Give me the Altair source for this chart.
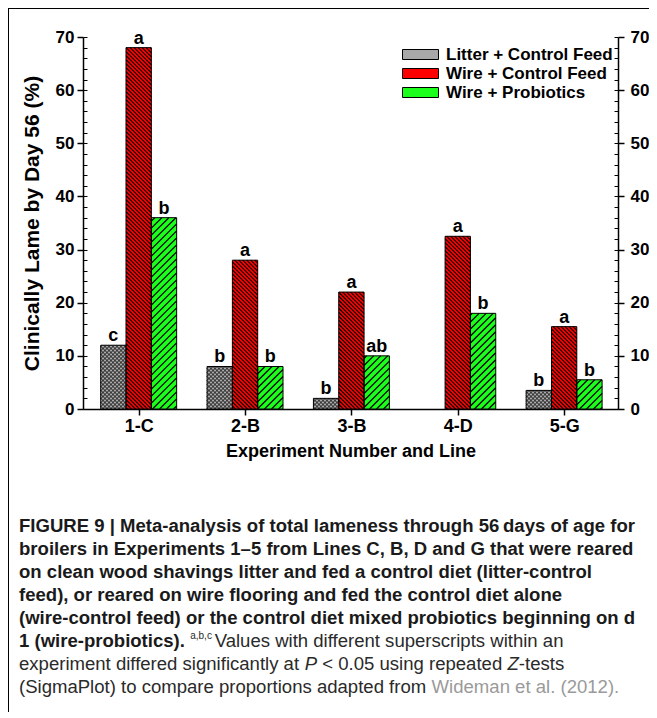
import math
import altair as alt
import pandas as pd

# ---------------- data ----------------
categories = ["1-C", "2-B", "3-B", "4-D", "5-G"]
series_names = ["Litter + Control Feed", "Wire + Control Feed", "Wire + Probiotics"]
litter_control = [12, 8, 2, None, 3.5]
wire_control = [68, 28, 22, 32.5, 15.5]
wire_probiotics = [36, 8, 10, 18, 5.5]
letters_litter = ["c", "b", "b", "", "b"]
letters_wire = ["a", "a", "a", "a", "a"]
letters_probiotics = ["b", "b", "ab", "b", "b"]
major_ticks = [0, 10, 20, 30, 40, 50, 60, 70]
minor_ticks = [0, 2, 4, 6, 8, 10, 12, 14, 16, 18, 20, 22, 24, 26, 28, 30, 32, 34,
               36, 38, 40, 42, 44, 46, 48, 50, 52, 54, 56, 58, 60, 62, 64, 66, 68, 70]
series_colors = ["#a8a8a8", "#ff0000", "#1cff1c"]

# ---------------- layout ----------------
W, H = 535, 372
XMAX, YMAX = 5.03, 70
G0, BW = 0.1665, 0.238
SX, SY = W / XMAX, H / YMAX
FONT = "Liberation Sans"

rows = []
for j, (name, vals, labs) in enumerate(zip(series_names,
                                         [litter_control, wire_control, wire_probiotics],
                                         [letters_litter, letters_wire, letters_probiotics])):
    for i, (cat, v, lab) in enumerate(zip(categories, vals, labs)):
        if v is None:
            continue
        x0 = i + G0 + j * BW
        rows.append(dict(category=cat, series=name, value=v, base=0, x0=x0, x1=x0 + BW,
                         xm=x0 + BW / 2, letter=lab, k=j))
bars = pd.DataFrame(rows)


def hatch(df, direction, spacing, phase=0.5):
    """Diagonal hatch segments clipped to each bar, on one pattern grid for the whole plot."""
    segs = []
    for r in df.itertuples():
        X0 = r.x0 * SX
        w = (r.x1 - r.x0) * SX
        h = r.value * SY
        if direction == "/":          # v = u + c, global: v - U = K*s + p
            base = phase + X0
            kmin = math.floor((-w - base) / spacing)
            kmax = math.ceil((h - base) / spacing)
            for K in range(kmin, kmax + 1):
                c = K * spacing + base
                u1, u2 = max(0, -c), min(w, h - c)
                if u2 - u1 > 0.3:
                    segs.append(dict(xa=r.x0 + u1 / SX, ya=(u1 + c) / SY,
                                     xb=r.x0 + u2 / SX, yb=(u2 + c) / SY))
        else:                         # v = -u + c, global: U + v = K*s + p
            base = phase - X0
            kmin = math.floor((0 - base) / spacing)
            kmax = math.ceil((h + w - base) / spacing)
            for K in range(kmin, kmax + 1):
                c = K * spacing + base
                u1, u2 = max(0, c - h), min(w, c)
                if u2 - u1 > 0.3:
                    segs.append(dict(xa=r.x0 + u1 / SX, ya=(c - u1) / SY,
                                     xb=r.x0 + u2 / SX, yb=(c - u2) / SY))
    return pd.DataFrame(segs)


xs = alt.Scale(domain=[0, XMAX], nice=False, zero=False)
ys = alt.Scale(domain=[0, YMAX], nice=False, zero=False)

centers = [i + G0 + 1.5 * BW for i in range(len(categories))]
label_expr = "[" + ",".join("'" + c + "'" for c in categories) + "][floor(datum.value)]"

axis_common = dict(grid=False, domainColor="black", tickColor="black", labelColor="black",
                   titleColor="black", labelFont=FONT, titleFont=FONT,
                   labelFontWeight="bold", titleFontWeight="bold")

x_axis = alt.Axis(values=centers, labelExpr=label_expr, title="Experiment Number and Line",
                  tickSize=6, tickWidth=1.5, domainWidth=1.5, labelFontSize=18,
                  titleFontSize=18, labelPadding=2, titlePadding=7, **axis_common)
y_left = alt.Axis(orient="left", values=major_ticks, tickSize=6, tickWidth=1.5, domainWidth=1.5,
                  labelFontSize=17, labelPadding=3, title="Clinically Lame by Day 56 (%)",
                  titleFontSize=21, titlePadding=13, **axis_common)
y_right = alt.Axis(orient="right", values=major_ticks, tickSize=6, tickWidth=1.5, domainWidth=1.5,
                   labelFontSize=17, labelPadding=6, title=None, **axis_common)
y_left_minor = alt.Axis(orient="right", offset=-W, values=minor_ticks, tickSize=4, tickWidth=1,
                        labels=False, domain=False, title=None, grid=False, tickColor="black")
y_right_minor = alt.Axis(orient="left", offset=-W, values=minor_ticks, tickSize=4, tickWidth=1,
                         labels=False, domain=False, title=None, grid=False, tickColor="black")

legend = alt.Legend(orient="none", legendX=327, legendY=7, title=None,
                    symbolType="M-1.8,-0.5H1.8V0.5H-1.8Z", symbolSize=400,
                    symbolStrokeColor="black", symbolStrokeWidth=1, symbolOpacity=1,
                    labelFont=FONT, labelFontSize=17, labelFontWeight="bold",
                    labelColor="black", labelOffset=15, rowPadding=0, labelLimit=400)

fill_layer = alt.Chart(bars).mark_rect(strokeWidth=0).encode(
    x=alt.X("x0:Q", scale=xs, axis=x_axis),
    x2="x1:Q",
    y=alt.Y("value:Q", scale=ys, axis=y_left),
    y2="base:Q",
    color=alt.Color("series:N", scale=alt.Scale(domain=series_names, range=series_colors),
                    legend=legend),
)


def hatch_layer(df, color, width, axis):
    return alt.Chart(df).mark_rule(color=color, strokeWidth=width).encode(
        x=alt.X("xa:Q", scale=xs, axis=x_axis), x2="xb:Q",
        y=alt.Y("ya:Q", scale=ys, axis=axis), y2="yb:Q")


litter_bars = bars[bars.k == 0]
red_bars = bars[bars.k == 1]
green_bars = bars[bars.k == 2]

litter_h1 = hatch_layer(hatch(litter_bars, "/", 4.0), "#1a1a1a", 1.0, None)
litter_h2 = hatch_layer(hatch(litter_bars, "\\", 4.0), "#1a1a1a", 1.0, None)
red_h = hatch_layer(hatch(red_bars, "\\", 4.0), "black", 1.1, y_right)
green_h = hatch_layer(hatch(green_bars, "/", 7.0), "black", 1.3, y_left_minor)

outline = alt.Chart(bars).mark_rect(fillOpacity=0, stroke="black", strokeWidth=1).encode(
    x=alt.X("x0:Q", scale=xs, axis=x_axis), x2="x1:Q",
    y=alt.Y("value:Q", scale=ys, axis=y_right_minor), y2="base:Q")

letters = alt.Chart(bars).mark_text(font=FONT, fontSize=18, fontWeight="bold", color="black",
                                    baseline="alphabetic", dy=-4).encode(
    x=alt.X("xm:Q", scale=xs, axis=x_axis),
    y=alt.Y("value:Q", scale=ys, axis=None),
    text="letter:N")

# ---------------- caption ----------------
REG = dict(zip("ABCDEFGHIJKLMNOPQRSTUVWXYZ",
               [667, 667, 722, 722, 667, 611, 778, 722, 278, 500, 667, 556, 833, 722, 778, 667,
                778, 722, 667, 611, 722, 667, 944, 667, 667, 611]))
REG.update(dict(zip("abcdefghijklmnopqrstuvwxyz",
                    [556, 556, 500, 556, 556, 278, 556, 556, 222, 222, 500, 222, 833, 556, 556,
                     556, 556, 333, 500, 278, 556, 500, 722, 500, 500, 500])))
BOLD = dict(zip("ABCDEFGHIJKLMNOPQRSTUVWXYZ",
                [722, 722, 722, 722, 667, 611, 778, 722, 278, 556, 722, 611, 833, 722, 778, 667,
                 778, 722, 667, 611, 722, 667, 944, 667, 667, 611]))
BOLD.update(dict(zip("abcdefghijklmnopqrstuvwxyz",
                     [556, 611, 556, 611, 556, 333, 611, 611, 278, 278, 556, 278, 889, 611, 611,
                      611, 611, 389, 556, 333, 611, 556, 778, 556, 556, 500])))
for tbl, bar in ((REG, 260), (BOLD, 280)):
    tbl.update({" ": 278, "(": 333, ")": 333, ".": 278, ",": 278, "-": 333, "<": 584,
                "|": bar, "\u2013": 556, "\u2009": 170})
    tbl.update({d: 556 for d in "0123456789"})


def tw(s, bold, size):
    t = BOLD if bold else REG
    return sum(t.get(ch, 556) for ch in s) * size / 1000.0


cap_lines = [
    "FIGURE 9 | Meta-analysis of total lameness through 56\u2009days of age for",
    "broilers in Experiments 1\u20135 from Lines C, B, D and G that were reared",
    "on clean wood shavings litter and fed a control diet (litter-control",
    "feed), or reared on wire flooring and fed the control diet alone",
    "(wire-control feed) or the control diet mixed probiotics beginning on d",
]
CX = 19
CS = round(616 / tw(cap_lines[0], True, 1), 2)
LY = [526, 549, 572, 595, 618, 641, 664, 687]
one = pd.DataFrame({"d": [0]})


def cap(text, px, py, bold=True, size=CS, style="normal", color="#1a1a1a"):
    return alt.Chart(one).mark_text(align="left", baseline="middle", font=FONT, fontSize=size,
                                    fontWeight="bold" if bold else "normal", fontStyle=style,
                                    color=color).encode(
        x=alt.value(px - 83), y=alt.value(py - 37), text=alt.value(text.strip()))


def rich(segments, py):
    # spaces are kept at segment ends: they count for the advance, the renderer trims them
    out, x = [], CX
    for text, bold, style, color, size, shift in segments:
        out.append(cap(text, x, py + shift, bold=bold, size=size, style=style, color=color))
        x += tw(text, bold, size)
    return out


DARK = "#2a2a2a"
captions = [cap(t, CX, LY[k]) for k, t in enumerate(cap_lines)]
captions += rich([
    ("1 (wire-probiotics). ", True, "normal", "#1a1a1a", CS, 0),
    ("a,b,c ", False, "normal", DARK, 10, -5),
    ("Values with different superscripts within an", False, "normal", DARK, CS, 0),
], LY[5])
captions += rich([
    ("experiment differed significantly at ", False, "normal", DARK, CS, 0),
    ("P ", False, "italic", DARK, CS, 0),
    ("< 0.05 using repeated ", False, "normal", DARK, CS, 0),
    ("Z", False, "italic", DARK, CS, 0),
    ("-tests", False, "normal", DARK, CS, 0),
], LY[6])
captions += rich([
    ("(SigmaPlot) to compare proportions adapted from ", False, "normal", DARK, CS, 0),
    ("Wideman et al. (2012).", False, "normal", "#9a9a9a", CS, 0),
], LY[7])

frame_left = alt.Chart(one).mark_rule(color="black", strokeWidth=1).encode(
    x=alt.value(-74.5), y=alt.value(-29), y2=alt.value(700))
frame_top = alt.Chart(one).mark_rule(color="black", strokeWidth=1).encode(
    x=alt.value(-75), x2=alt.value(620), y=alt.value(-28.5))

chart = alt.layer(
    fill_layer, litter_h1, litter_h2, red_h, green_h, outline, letters,
    *captions, frame_left, frame_top
).resolve_scale(x="shared", y="shared").resolve_axis(y="independent").properties(
    width=W, height=H,
    autosize=alt.AutoSizeParams(type="none"),
    padding={"left": 75, "top": 29, "right": 31, "bottom": 303},
).configure_view(stroke=None)

chart.save("out.html", embed_options={"renderer": "svg", "actions": False})
